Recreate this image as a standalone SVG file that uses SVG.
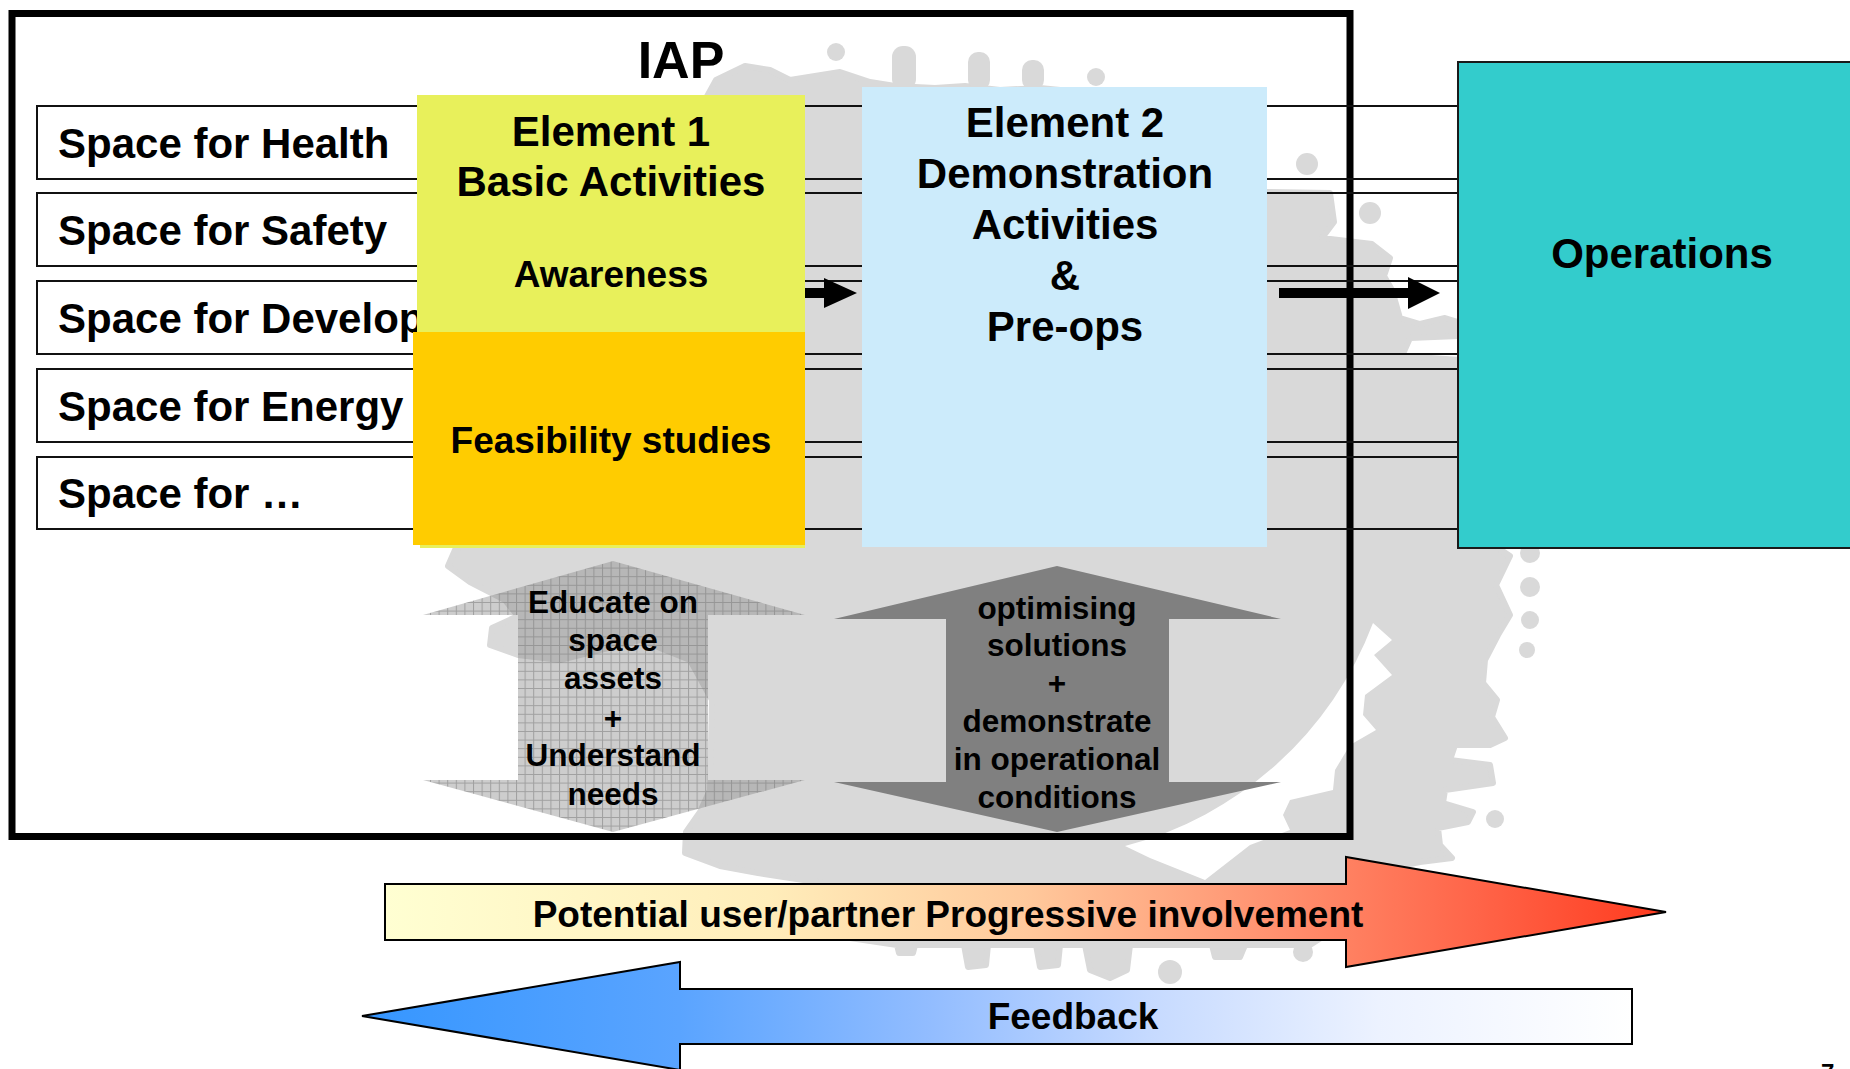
<svg xmlns="http://www.w3.org/2000/svg" width="1850" height="1069" viewBox="0 0 1850 1069">
  <style>
    .t { font-family: "Liberation Sans", Arial, sans-serif; font-weight: bold; fill: #000; }
    .row { fill: none; stroke: #111; stroke-width: 2; }
    .lbl { font-size: 42px; }
    .big { font-size: 42px; text-anchor: middle; }
    .mid { font-size: 37px; text-anchor: middle; }
    .small { font-size: 31.5px; text-anchor: middle; }
    .splash { fill: #d9d9d9; }
    .flow { fill: #000; }
  </style>
  <defs>
    <pattern id="grid" width="8.6" height="8.6" patternUnits="userSpaceOnUse">
      <rect width="8.6" height="8.6" fill="#888" fill-opacity="0.42"/>
      <path d="M0 0.5H8.6M0.5 0V8.6" stroke="#7a7a7a" stroke-width="1" stroke-opacity="0.55" fill="none"/>
    </pattern>
    <linearGradient id="gradInvolve" gradientUnits="userSpaceOnUse" x1="385" y1="0" x2="1666" y2="0">
      <stop offset="0" stop-color="#FFFFD2"/>
      <stop offset="0.3" stop-color="#FFEDBA"/>
      <stop offset="0.5" stop-color="#FFC99C"/>
      <stop offset="0.7" stop-color="#FF8F6E"/>
      <stop offset="0.85" stop-color="#FF6549"/>
      <stop offset="1" stop-color="#FF3A1E"/>
    </linearGradient>
    <linearGradient id="gradFeedback" gradientUnits="userSpaceOnUse" x1="362" y1="0" x2="1632" y2="0">
      <stop offset="0" stop-color="#3596FF"/>
      <stop offset="0.25" stop-color="#5AA4FF"/>
      <stop offset="0.45" stop-color="#93BDFF"/>
      <stop offset="0.62" stop-color="#C6DAFF"/>
      <stop offset="0.8" stop-color="#ECF2FF"/>
      <stop offset="1" stop-color="#FFFFFF"/>
    </linearGradient>
  </defs>

  <rect width="1850" height="1069" fill="#fff"/>

  <!-- grey splash backdrop -->
  <g id="splash" class="splash">
    <circle cx="1034" cy="495" r="363"/>
    <path d="M705,100 L716,80 L745,66 L770,70 L790,80 L815,76 L840,72 L870,82 L895,86 L935,88 L965,86 L1000,90 L1040,88 L1080,92 L1120,100 L1170,115 L1215,140 L1250,170 L1265,192 L1330,193 L1334,222 L1322,238 L1372,244 L1390,258 L1384,276 L1392,290 L1400,318 L1420,324 L1445,318 L1458,322 L1458,336 L1410,338 L1402,356 L1460,360 L1480,420 L1498,548 L1510,556 L1496,585 L1510,615 L1498,635 L1485,660 L1483,683 L1497,700 L1492,717 L1505,738 L1490,745 L1455,745 L1450,760 L1490,765 L1493,783 L1445,790 L1443,803 L1473,812 L1468,822 L1438,828 L1440,845 L1452,858 L1420,862 L1400,866 L1380,900 L1310,945 L1245,945 L1240,957 L1215,957 L1212,945 L1130,945 L1127,970 L1110,978 L1090,970 L1085,945 L1060,945 L1058,965 L1040,967 L1036,945 L988,945 L986,965 L968,967 L964,945 L915,945 L913,953 L899,953 L897,945 L850,938 L824,900 L824,883 L790,878 L758,873 L720,866 L685,853 L686,832 L700,812 L710,790 L712,700 L690,660 L640,640 L600,650 L560,660 L518,655 L490,645 L492,628 L518,616 L505,600 L470,582 L448,566 L455,550 L470,540 L500,520 L540,450 L600,330 L650,220 L690,140 Z" stroke="#d9d9d9" stroke-width="6" stroke-linejoin="round"/>
    <circle cx="836" cy="52" r="9"/>
    <rect x="892" y="46" width="24" height="44" rx="11"/>
    <rect x="968" y="52" width="22" height="38" rx="10"/>
    <rect x="1022" y="60" width="22" height="30" rx="10"/>
    <circle cx="1096" cy="77" r="9"/>
    <circle cx="1307" cy="164" r="11"/>
    <circle cx="1370" cy="213" r="11"/>
    <circle cx="1530" cy="553" r="10"/>
    <circle cx="1530" cy="587" r="10"/>
    <circle cx="1530" cy="620" r="9"/>
    <circle cx="1527" cy="650" r="8"/>
    <circle cx="1495" cy="819" r="9"/>
    <circle cx="1170" cy="972" r="12"/>
    <circle cx="1303" cy="952" r="10"/>
    <!-- white gap between the disc and the outer splash -->
    <path d="M1373,623 L1392,640 L1374,655 L1392,675 L1365,695 L1363,715 L1376,730 L1350,745 L1335,770 L1333,790 L1290,800 L1283,815 L1290,830 L1250,845 L1205,880 L1150,858 L1125,846 A363,363 0 0 0 1373,623 Z" fill="#fff"/>
  </g>

  <!-- outer IAP frame -->
  <g id="iap-frame">
    <rect x="12" y="13.5" width="1338" height="823" fill="none" stroke="#000" stroke-width="7"/>
    <text class="t" x="681" y="78" font-size="52" text-anchor="middle">IAP</text>
  </g>

  <!-- application rows -->
  <g id="row-health">
    <rect class="row" x="37" y="106" width="1421" height="73"/>
    <text class="t lbl" x="58" y="158">Space for Health</text>
  </g>
  <g id="row-safety">
    <rect class="row" x="37" y="193" width="1421" height="73"/>
    <text class="t lbl" x="58" y="245">Space for Safety</text>
  </g>
  <g id="row-development">
    <rect class="row" x="37" y="281" width="1421" height="73"/>
    <text class="t lbl" x="58" y="333">Space for Develop</text>
  </g>
  <g id="row-energy">
    <rect class="row" x="37" y="369" width="1421" height="73"/>
    <text class="t lbl" x="58" y="421">Space for Energy</text>
  </g>
  <g id="row-other">
    <rect class="row" x="37" y="457" width="1421" height="72"/>
    <text class="t lbl" x="58" y="508">Space for …</text>
  </g>

  <!-- Element 1 -->
  <g id="element1">
    <rect x="417" y="95" width="388" height="237" fill="#E8F05B"/>
    <rect x="413" y="332" width="392" height="213" fill="#FFCC00"/>
    <rect x="420" y="545" width="385" height="3" fill="#E8F05B"/>
    <text class="t big" x="611" y="146">Element 1</text>
    <text class="t big" x="611" y="196">Basic Activities</text>
    <text class="t mid" x="611" y="287">Awareness</text>
    <text class="t mid" x="611" y="453">Feasibility studies</text>
  </g>

  <!-- Element 2 -->
  <g id="element2">
    <rect x="862" y="87" width="405" height="460" fill="#CCEBFB"/>
    <text class="t big" x="1065" y="137">Element 2</text>
    <text class="t big" x="1065" y="188">Demonstration</text>
    <text class="t big" x="1065" y="239">Activities</text>
    <text class="t big" x="1065" y="290">&amp;</text>
    <text class="t big" x="1065" y="341">Pre-ops</text>
  </g>

  <!-- Operations -->
  <g id="operations">
    <rect x="1458" y="62" width="400" height="486" fill="#33CCCC" stroke="#1a1a1a" stroke-width="2"/>
    <text class="t big" x="1662" y="268">Operations</text>
  </g>

  <!-- educate / understand double arrow -->
  <g id="educate-arrow">
    <polygon points="613,561 805,615 708,615 708,780 805,780 613,832 423,780 518,780 518,615 423,615" fill="url(#grid)"/>
    <text class="t small" x="613" y="613">Educate on</text>
    <text class="t small" x="613" y="651">space</text>
    <text class="t small" x="613" y="689">assets</text>
    <text class="t small" x="613" y="729">+</text>
    <text class="t small" x="613" y="766">Understand</text>
    <text class="t small" x="613" y="805">needs</text>
  </g>

  <!-- optimise / demonstrate double arrow -->
  <g id="optimise-arrow">
    <polygon points="1057,566 1281,619 1169,619 1169,782 1281,782 1057,832 834,782 946,782 946,619 834,619" fill="#808080"/>
    <text class="t small" x="1057" y="619">optimising</text>
    <text class="t small" x="1057" y="656">solutions</text>
    <text class="t small" x="1057" y="694">+</text>
    <text class="t small" x="1057" y="732">demonstrate</text>
    <text class="t small" x="1057" y="770">in operational</text>
    <text class="t small" x="1057" y="808">conditions</text>
  </g>

  <!-- flow between stages -->
  <g id="connectors">
    <polygon class="flow" points="805,288 824,288 824,278 857,293 824,308 824,298 805,298"/>
    <polygon class="flow" points="1279,288 1408,288 1408,277 1440,293 1408,309 1408,298 1279,298"/>
  </g>

  <!-- progressive involvement arrow -->
  <g id="involvement-arrow">
    <polygon points="385,884 1346,884 1346,857 1666,912 1346,967 1346,940 385,940" fill="url(#gradInvolve)" stroke="#000" stroke-width="2" stroke-linejoin="miter"/>
    <text class="t mid" x="948" y="927">Potential user/partner Progressive involvement</text>
  </g>

  <!-- feedback arrow -->
  <g id="feedback-arrow">
    <polygon points="362,1016 680,962 680,989 1632,989 1632,1044 680,1044 680,1070" fill="url(#gradFeedback)" stroke="#000" stroke-width="2"/>
    <text class="t mid" x="1073" y="1029">Feedback</text>
  </g>

  <text class="t" x="1821" y="1081" font-size="24">7</text>
</svg>
